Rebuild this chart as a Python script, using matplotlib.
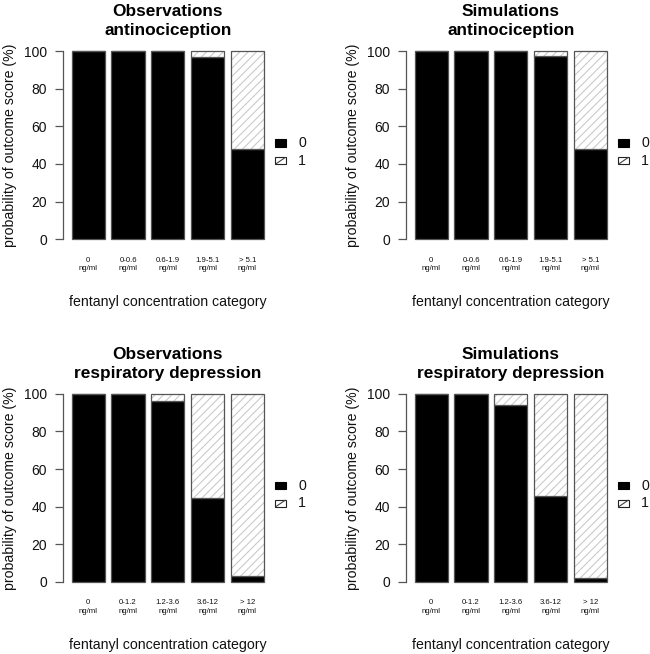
import matplotlib
matplotlib.use("Agg")
import matplotlib.pyplot as plt
from matplotlib.patches import Rectangle
from matplotlib.lines import Line2D

plt.rcParams['font.family'] = ['Liberation Sans', 'DejaVu Sans']
plt.rcParams['hatch.linewidth'] = 0.75

# ---- data ----
antinoc_categories = ["0\nng/ml", "0-0.6\nng/ml", "0.6-1.9\nng/ml", "1.9-5.1\nng/ml", "> 5.1\nng/ml"]
resp_categories = ["0\nng/ml", "0-1.2\nng/ml", "1.2-3.6\nng/ml", "3.6-12\nng/ml", "> 12\nng/ml"]

obs_antinoc_score0 = [100, 100, 100, 97, 48]
sim_antinoc_score0 = [100, 100, 100, 97.5, 48]
obs_resp_score0 = [100, 100, 96, 44.5, 3]
sim_resp_score0 = [100, 100, 94, 45.5, 2.3]

titles = [("Observations", "antinociception"),
          ("Simulations", "antinociception"),
          ("Observations", "respiratory depression"),
          ("Simulations", "respiratory depression")]
legend_labels = ["0", "1"]
ylabel = "probability of outcome score (%)"
xlabel = "fentanyl concentration category"
yticks = [0, 20, 40, 60, 80, 100]

panels = [
    (antinoc_categories, obs_antinoc_score0),
    (antinoc_categories, sim_antinoc_score0),
    (resp_categories, obs_resp_score0),
    (resp_categories, sim_resp_score0),
]

W, H = 650, 654
fig = plt.figure(figsize=(W / 100, H / 100), dpi=100)

ax_w = 207.7
ax_h = 203.3
lefts = [64, 407]
tops = [43.5, 386.2]

edge = '#555555'
hatch_col = '#c8c8c8'

for k, (cats, s0) in enumerate(panels):
    row, col = divmod(k, 2)
    left = lefts[col]
    top = tops[row]
    ax = fig.add_axes([left / W, (H - top - ax_h) / H, ax_w / W, ax_h / H])
    n = len(cats)
    x = [0.7 + 1.2 * i for i in range(n)]
    s1 = [100 - v for v in s0]
    ax.bar(x, s0, width=1, color='black', edgecolor=edge, linewidth=0.9)
    ax.bar(x, s1, bottom=s0, width=1, facecolor='white', edgecolor=hatch_col,
           hatch='////', linewidth=0)
    ax.bar(x, s1, bottom=s0, width=1, fill=False, edgecolor=edge, linewidth=0.9)
    ax.set_xlim(-0.032, 6.232)
    ax.set_ylim(-4, 104)
    for s in ['top', 'right', 'bottom']:
        ax.spines[s].set_visible(False)
    ax.spines['left'].set_bounds(0, 100)
    ax.spines['left'].set_color(edge)
    ax.spines['left'].set_linewidth(0.9)
    ax.spines['left'].set_position(('outward', 1))
    ax.set_yticks(yticks)
    ax.tick_params(axis='y', length=5.8, width=0.9, color=edge, pad=5.5,
                   labelsize=10, labelcolor='#111111')
    ax.set_xticks(x)
    ax.set_xticklabels(cats, fontsize=5.6, linespacing=1.35, color='#111111')
    ax.tick_params(axis='x', length=0, pad=7)
    ax.set_ylabel(ylabel, fontsize=10.2, color='#111111')
    ax.yaxis.label.set_verticalalignment('center')
    ax.yaxis.set_label_coords(-54 / ax_w, 0.5)
    ax.set_xlabel(xlabel, fontsize=10.2, color='#111111')
    ax.xaxis.label.set_verticalalignment('center')
    ax.xaxis.set_label_coords(0.5, -55.5 / ax_h)
    t1, t2 = titles[k]
    ax.text(0.5, 1 + 31.8 / ax_h, t1, transform=ax.transAxes, ha='center',
            va='center', fontsize=12.4, fontweight='bold')
    ax.text(0.5, 1 + 12.5 / ax_h, t2, transform=ax.transAxes, ha='center',
            va='center', fontsize=12.4, fontweight='bold')
    # legend
    bw = 11 / ax_w
    bh = 7.5 / ax_h
    bx = 1 + 3.5 / ax_w
    ys = [0.511, 0.424]
    ax.add_patch(Rectangle((bx, ys[0] - bh / 2), bw, bh, transform=ax.transAxes,
                           facecolor='black', edgecolor='black', linewidth=0.8,
                           clip_on=False))
    ax.add_patch(Rectangle((bx, ys[1] - bh / 2), bw, bh, transform=ax.transAxes,
                           facecolor='white', edgecolor='#222222',
                           linewidth=0.8, clip_on=False))
    ax.add_line(Line2D([bx + bw * 0.1, bx + bw * 0.9],
                       [ys[1] - bh * 0.4, ys[1] + bh * 0.4],
                       transform=ax.transAxes, color='#444444', linewidth=0.8,
                       clip_on=False))
    for yy, lab in zip(ys, legend_labels):
        ax.text(1 + 26.5 / ax_w, yy, lab, transform=ax.transAxes, ha='left',
                va='center', fontsize=10.2, color='#111111')

fig.savefig("out.png", dpi=100)
